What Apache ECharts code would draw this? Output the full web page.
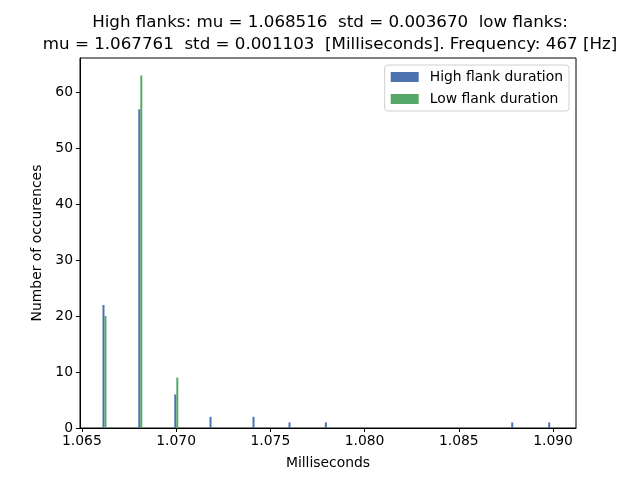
<!DOCTYPE html>
<html>
<head>
<meta charset="utf-8">
<script src="https://cdn.jsdelivr.net/npm/echarts@6/dist/echarts.min.js"></script>
<style>
  html, body { margin: 0; padding: 0; background: #fff; }
  #chart { width: 640px; height: 480px; }
</style>
</head>
<body>
<div id="chart"></div>
<script>
// bin centres (ms) and counts
const binCenters = [1.06620, 1.06810, 1.07001, 1.07188, 1.07416, 1.07607, 1.07800, 1.08789, 1.08985];
const highCounts = [22, 57, 6, 2, 2, 1, 1, 1, 1];
const lowCounts = [20, 63, 9, 0, 0, 0, 0, 0, 0];
const xTicks = [1.065, 1.070, 1.075, 1.080, 1.085, 1.090];
const yTicks = [0, 10, 20, 30, 40, 50, 60];

const titleText = 'High flanks: mu = 1.068516  std = 0.003670  low flanks:\nmu = 1.067761  std = 0.001103  [Milliseconds]. Frequency: 467 [Hz]';

function pairs(xs, ys) {
    return xs.map((x, i) => [x, ys[i]]);
}

const font = 'DejaVu Sans';

var option = {
    animation: false,
    backgroundColor: '#fff',
    textStyle: { fontFamily: font },
    title: {
        text: titleText,
        left: 325,
        textAlign: 'center',
        top: 7,
        textStyle: {
            fontFamily: font,
            fontSize: 16.7,
            fontWeight: 'normal',
            color: '#000',
            lineHeight: 22
        }
    },
    legend: {
        right: 71,
        top: 65,
        orient: 'vertical',
        itemWidth: 28,
        itemHeight: 10,
        itemGap: 8,
        icon: 'rect',
        borderColor: '#d0d0d0',
        borderWidth: 1,
        borderRadius: 3,
        padding: [5, 6, 5, 6],
        textStyle: { fontFamily: font, fontSize: 13.9, color: '#000', padding: [0, 0, 0, 6] },
        data: ['High flank duration', 'Low flank duration']
    },
    grid: {
        left: 80,
        right: 64,
        top: 58,
        bottom: 52,
        show: true,
        borderColor: '#000',
        borderWidth: 1
    },
    xAxis: {
        type: 'value',
        min: 1.0649,
        max: 1.09122,
        name: 'Milliseconds',
        nameLocation: 'middle',
        nameGap: 28,
        nameTextStyle: { fontFamily: font, fontSize: 13.9, color: '#000' },
        axisLine: { lineStyle: { color: '#000' } },
        axisTick: { show: true, length: 4, lineStyle: { color: '#000' }, customValues: xTicks },
        axisLabel: {
            color: '#000', fontSize: 13.9, margin: 6,
            customValues: xTicks,
            formatter: v => v.toFixed(3)
        },
        splitLine: { show: false }
    },
    yAxis: {
        type: 'value',
        min: 0,
        max: 66.15,
        name: 'Number of occurences',
        nameLocation: 'middle',
        nameGap: 36,
        nameTextStyle: { fontFamily: font, fontSize: 13.9, color: '#000' },
        axisLine: { show: true, lineStyle: { color: '#000' } },
        axisTick: { show: true, length: 4, lineStyle: { color: '#000' }, customValues: yTicks },
        axisLabel: { color: '#000', fontSize: 13.9, margin: 7, customValues: yTicks },
        splitLine: { show: false }
    },
    series: [
        {
            name: 'High flank duration',
            type: 'bar',
            barWidth: 2,
            barGap: '0%',
            itemStyle: { color: '#4C72B0' },
            data: pairs(binCenters, highCounts)
        },
        {
            name: 'Low flank duration',
            type: 'bar',
            barWidth: 2,
            barGap: '0%',
            itemStyle: { color: '#55A868' },
            data: pairs(binCenters, lowCounts)
        }
    ]
};

var chart = echarts.init(document.getElementById('chart'));
chart.setOption(option);
</script>
</body>
</html>
